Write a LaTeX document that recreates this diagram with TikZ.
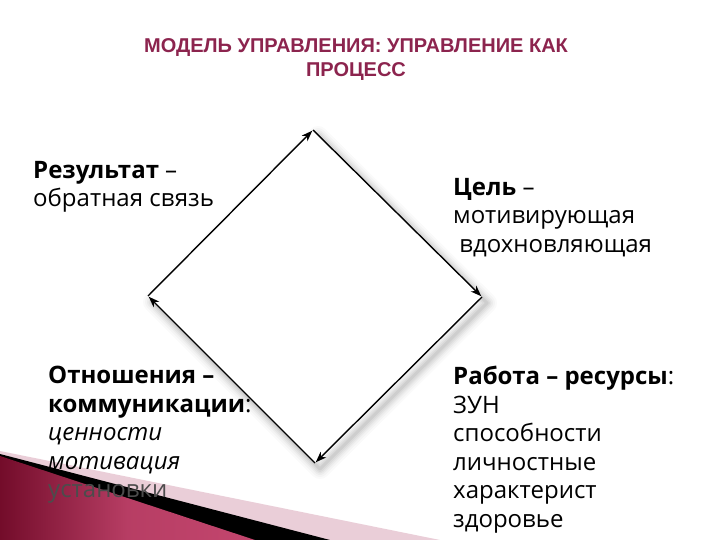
\documentclass[tikz,border=0pt]{standalone}
\usepackage{fontspec}
\setmainfont{Open Sans}
\newfontfamily\titlefont{Liberation Sans}
\usetikzlibrary{arrows.meta}
\definecolor{titlecol}{RGB}{140,36,78}
\definecolor{maroonA}{RGB}{115,12,42}
\definecolor{maroonB}{RGB}{195,70,110}
\definecolor{pinkband}{RGB}{234,206,216}
\tikzset{
  body/.style={anchor=north west,inner sep=0pt,align=left,font=\fontsize{24}{28.5}\selectfont},
  edge/.style={line width=1.4pt,-{Stealth[length=11pt,width=8pt]},shorten >=1pt},
  shadowline/.style={line cap=round,line join=round,black}
}
\begin{document}
\begin{tikzpicture}[x=1pt,y=-1pt]
\useasboundingbox (0,0) rectangle (720,540);
\fill[white] (0,0) rectangle (720,540);
% title
\node[anchor=center,font=\titlefont\bfseries\fontsize{20}{24}\selectfont,text=titlecol,align=center] (title) at (356,60)
  {МОДЕЛЬ УПРАВЛЕНИЯ: УПРАВЛЕНИЕ КАК\\ПРОЦЕСС};
% diamond corners
\coordinate (T) at (313,130);
\coordinate (R) at (482,297);
\coordinate (B) at (315,463);
\coordinate (L) at (148,296);
% shadow
\foreach \w/\o in {20/0.02,16/0.025,12/0.03,9/0.035,6/0.04,3/0.05}{
  \draw[shadowline,line width=\w pt,opacity=\o] ([shift={(5,6)}]L) -- ([shift={(5,6)}]T) -- ([shift={(5,6)}]R) -- ([shift={(5,6)}]B) -- cycle;
}
\fill[white] (L) -- (T) -- (R) -- (B) -- cycle;
\draw[edge] (L) -- (T);
\draw[edge] (T) -- (R);
\draw[edge] (R) -- (B);
\draw[edge] (B) -- (L);
% bottom-left decoration
\fill[pinkband] (0,451) -- (440,540) -- (0,540) -- cycle;
\fill[black] (0,454) -- (330,540) -- (0,540) -- cycle;
\shade[left color=maroonA,right color=maroonB,middle color=maroonB!85!maroonA] (0,456) -- (255,540) -- (0,540) -- cycle;
% texts
\node[body] (res) at (33,161) {\textbf{Результат} –\\обратная связь};
\node[body] (goal) at (453,178) {\textbf{Цель} –\\мотивирующая\\\ вдохновляющая};
\node[body] (rel) at (48,366) {\textbf{Отношения –}\\\textbf{коммуникации}:\\\textit{ценности}\\\textit{мотивация}\\{\color{black!70}установки}};
\node[body] (work) at (453,366) {\textbf{Работа – ресурсы}:\\ЗУН\\способности\\личностные\\характерист\\здоровье};
\end{tikzpicture}
\end{document}
